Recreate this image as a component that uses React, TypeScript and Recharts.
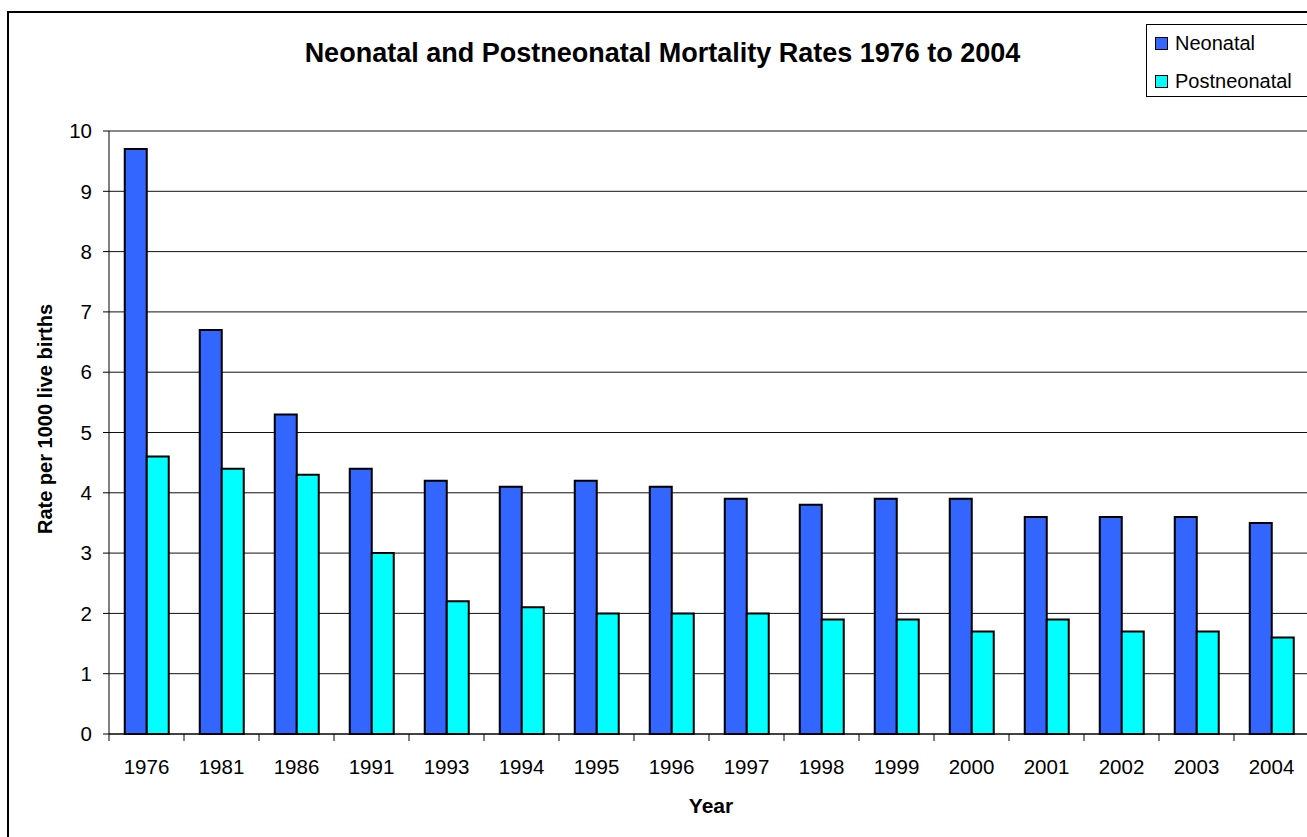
import React from 'react';
import { BarChart, Bar, XAxis, YAxis, CartesianGrid } from 'recharts';

const years = ['1976', '1981', '1986', '1991', '1993', '1994', '1995', '1996', '1997', '1998', '1999', '2000', '2001', '2002', '2003', '2004'];
const neonatal = [9.7, 6.7, 5.3, 4.4, 4.2, 4.1, 4.2, 4.1, 3.9, 3.8, 3.9, 3.9, 3.6, 3.6, 3.6, 3.5];
const postneonatal = [4.6, 4.4, 4.3, 3.0, 2.2, 2.1, 2.0, 2.0, 2.0, 1.9, 1.9, 1.7, 1.9, 1.7, 1.7, 1.6];
const yTicks = [0, 1, 2, 3, 4, 5, 6, 7, 8, 9, 10];

const seriesInfo = [
  { key: 'neonatal', name: 'Neonatal', color: '#3366FF' },
  { key: 'postneonatal', name: 'Postneonatal', color: '#00FFFF' },
];

const data = years.map((y, i) => ({ year: y, neonatal: neonatal[i], postneonatal: postneonatal[i] }));

const FONT = '"Liberation Sans", Arial, Helvetica, sans-serif';
const CHART_W = 1330;
const CHART_H = 837;
const MARGIN = { top: 131, right: 21, left: 0, bottom: 53 };
const Y_AXIS_W = 109;
const PLOT_W = CHART_W - MARGIN.left - MARGIN.right - Y_AXIS_W;
const BAND = PLOT_W / years.length;

const XTick = (props: any) => {
  const { x, y, payload } = props;
  const off = payload && typeof payload.offset === 'number' && payload.offset > 0 ? payload.offset : BAND / 2;
  return (
    <g>
      <line x1={x - off} x2={x - off} y1={y} y2={y + 7} stroke="#000" strokeWidth={1} />
      <text x={x} y={y + 40} textAnchor="middle" fontSize={20.5} fill="#000" fontFamily={FONT}>
        {payload.value}
      </text>
    </g>
  );
};

export default function App() {
  return (
    <div style={{ position: 'fixed', left: 0, top: 0, width: 1307, height: 837, overflow: 'hidden', background: '#fff', fontFamily: FONT }}>
      <div style={{ position: 'absolute', left: 7, top: 11, width: 1340, height: 900, border: '2px solid #000', boxSizing: 'border-box' }} />
      <div style={{ position: 'absolute', left: 0, top: 0 }}>
        <BarChart width={CHART_W} height={CHART_H} data={data} margin={MARGIN} barCategoryGap="21%" barGap={0}>
          <CartesianGrid vertical={false} stroke="#111" strokeWidth={1} />
          <XAxis
            dataKey="year"
            height={50}
            tickLine={false}
            tickSize={0}
            tickMargin={0}
            axisLine={{ stroke: '#000', strokeWidth: 1 }}
            tick={<XTick />}
            interval={0}
          />
          <YAxis
            width={Y_AXIS_W}
            domain={[0, 10]}
            ticks={yTicks}
            interval={0}
            tickSize={6}
            tickMargin={11}
            axisLine={{ stroke: '#000', strokeWidth: 1 }}
            tickLine={{ stroke: '#000', strokeWidth: 1 }}
            tick={{ fill: '#000', fontSize: 20.5, fontFamily: FONT }}
          />
          {seriesInfo.map((s) => (
            <Bar key={s.key} dataKey={s.key} name={s.name} fill={s.color} stroke="#000" strokeWidth={2} isAnimationActive={false} />
          ))}
        </BarChart>
      </div>
      <div style={{ position: 'absolute', left: 0, width: 1325, top: 36, textAlign: 'center', fontSize: 27, fontWeight: 'bold', lineHeight: '34px', color: '#000' }}>
        Neonatal and Postneonatal Mortality Rates 1976 to 2004
      </div>
      <div style={{ position: 'absolute', left: 45, top: 419, width: 0, height: 0 }}>
        <div style={{ position: 'absolute', left: -200, top: -12, width: 400, textAlign: 'center', transform: 'rotate(-90deg)', fontSize: 20, fontWeight: 'bold', lineHeight: '24px', whiteSpace: 'nowrap', color: '#000' }}>
          Rate per 1000 live births
        </div>
      </div>
      <div style={{ position: 'absolute', left: 511, width: 400, top: 793, textAlign: 'center', fontSize: 21, fontWeight: 'bold', lineHeight: '26px', color: '#000' }}>
        Year
      </div>
      <div style={{ position: 'absolute', left: 1146, top: 24, width: 200, height: 73, border: '1px solid #000', boxSizing: 'border-box', background: '#fff' }}>
        {seriesInfo.map((s, i) => (
          <div key={s.key} style={{ position: 'absolute', left: 8, top: 6 + i * 38, height: 24, display: 'flex', alignItems: 'center', whiteSpace: 'nowrap' }}>
            <span style={{ display: 'inline-block', width: 11, height: 11, background: s.color, border: '1px solid #000', marginRight: 7 }} />
            <span style={{ fontSize: 20, lineHeight: '24px', color: '#000' }}>{s.name}</span>
          </div>
        ))}
      </div>
    </div>
  );
}
